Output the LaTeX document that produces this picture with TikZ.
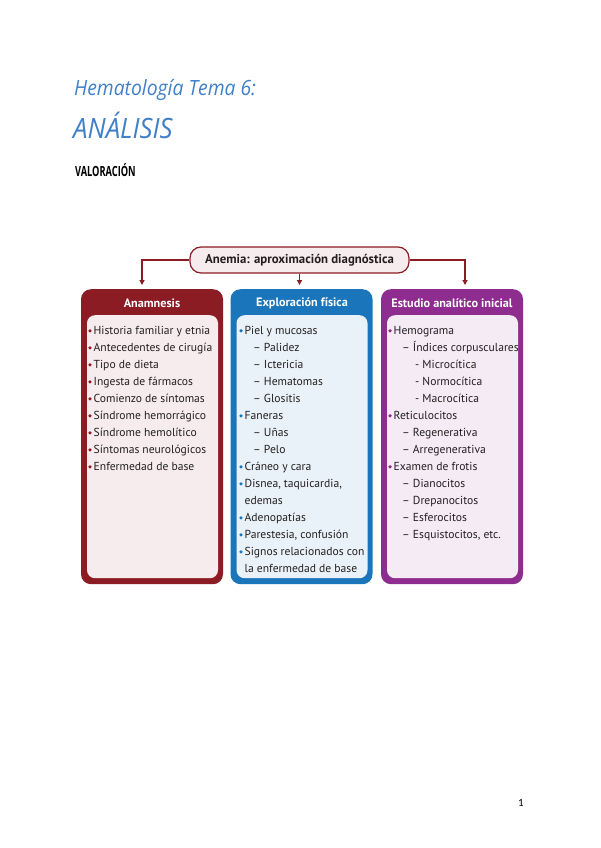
\documentclass[tikz,border=0pt]{standalone}
\usepackage{fontspec}
\setmainfont{PT Sans}
\newfontfamily\titlefont{Open Sans}[FakeStretch=0.92]
\newfontfamily\handfont{Open Sans}[FakeStretch=0.66]
\newfontfamily\numfont{Carlito}
\usetikzlibrary{arrows.meta}
\definecolor{anred}{HTML}{8C1C24}
\definecolor{anblue}{HTML}{1B75BB}
\definecolor{anpurple}{HTML}{8E2C90}
\definecolor{anredbg}{HTML}{F6ECEE}
\definecolor{anbluebg}{HTML}{EAF2F9}
\definecolor{anpurplebg}{HTML}{F4EBF4}
\definecolor{titleblue}{HTML}{3F80C8}
\definecolor{txtgray}{HTML}{231F20}

\tikzset{
  colbox/.style={rounded corners=10pt,minimum width=142pt,minimum height=295pt,anchor=north,inner sep=0pt},
  innerbox/.style={rounded corners=8pt,minimum width=131pt,minimum height=263pt,anchor=north,inner sep=0pt},
  coltitle/.style={text=white,font=\fontsize{12.2}{13}\selectfont\bfseries},
  itemtext/.style={anchor=base west,inner sep=0pt,text=txtgray,font=\fontsize{11.6}{13}\selectfont},
  link/.style={anred,line width=1.2pt,-{Triangle[length=5pt,width=5pt]}}
}

% one column of items: #1 bullet x, #2 colour, #3 name prefix, #4 level/text list
\newcommand{\itemcol}[4]{%
  \foreach \lv/\txt [count=\i] in {#4} {
    \pgfmathsetmacro{\yy}{334+17*(\i-1)}
    \ifcase\lv
      \fill[#2] (#1,\yy-3.2) circle (1.8pt);
      \node[itemtext] (#3-\i) at (#1+3.5,\yy) {\txt};
    \or
      \node[itemtext] (#3-\i) at (#1+12,\yy) {–\space\txt};
    \or
      \node[itemtext] (#3-\i) at (#1+25,\yy) {-\space\txt};
    \or
      \node[itemtext] (#3-\i) at (#1+3.5,\yy) {\txt};
    \fi
  }}

\begin{document}
\begin{tikzpicture}[x=1pt,y=-1pt]
\useasboundingbox[fill=white] (0,0) rectangle (600,848);

% page heading
\node[anchor=west,inner sep=0pt,text=titleblue,font=\titlefont\itshape\fontsize{21}{24}\selectfont] (titulo) at (74,90) {Hematología Tema 6:};
\node[anchor=west,inner sep=0pt,text=titleblue,font=\titlefont\itshape\fontsize{28}{30}\selectfont] (analisis) at (73,125) {ANÁLISIS};
\node[anchor=west,inner sep=0pt,font=\handfont\bfseries\fontsize{14}{16}\selectfont] (valor) at (75,170) {VALORACIÓN};

% main header
\node[draw=anred,fill=anredbg,line width=1.2pt,rounded corners=11pt,minimum width=219pt,minimum height=26pt,
  font=\fontsize{12.8}{14}\selectfont\bfseries,text=txtgray] (anemia) at (299.5,260) {Anemia: aproximación diagnóstica};

% columns
\node[colbox,fill=anred] (anam) at (152,289) {};
\node[colbox,fill=anblue] (explo) at (301.5,289) {};
\node[colbox,fill=anpurple] (estud) at (452,289) {};
\node[innerbox,fill=anredbg] (anamin) at (152.5,315) {};
\node[innerbox,fill=anbluebg] (exploin) at (302,315) {};
\node[innerbox,fill=anpurplebg] (estudin) at (452.5,315) {};
\node[coltitle] (anamt) at (152,303) {Anamnesis};
\node[coltitle] (explot) at (302,303) {Exploración física};
\node[coltitle] (estudt) at (452,303) {Estudio analítico inicial};

% connectors
\coordinate (l) at (142,285);
\coordinate (r) at (465,285);
\draw[link] (anemia.west) -| (l);
\draw[link] (anemia.east) -| (r);
\draw[link] (anemia.south) -- (anemia.south |- l);

% items
\itemcol{90}{anred}{an}{0/Historia familiar y etnia,0/Antecedentes de cirugía,0/Tipo de dieta,
  0/Ingesta de fármacos,0/Comienzo de síntomas,0/Síndrome hemorrágico,0/Síndrome hemolítico,
  0/Síntomas neurológicos,0/Enfermedad de base}
\itemcol{241}{anblue}{ex}{0/Piel y mucosas,1/Palidez,1/Ictericia,1/Hematomas,1/Glositis,0/Faneras,
  1/Uñas,1/Pelo,0/Cráneo y cara,0/{Disnea, taquicardia,},3/edemas,0/Adenopatías,
  0/{Parestesia, confusión},0/Signos relacionados con,3/la enfermedad de base}
\itemcol{390}{anpurple}{es}{0/Hemograma,1/Índices corpusculares,2/Microcítica,2/Normocítica,2/Macrocítica,
  0/Reticulocitos,1/Regenerativa,1/Arregenerativa,0/Examen de frotis,1/Dianocitos,1/Drepanocitos,
  1/Esferocitos,1/{Esquistocitos, etc.}}

% page number
\node[inner sep=0pt,font=\numfont\fontsize{11}{12}\selectfont] (pag) at (521,803) {1};
\end{tikzpicture}
\end{document}
